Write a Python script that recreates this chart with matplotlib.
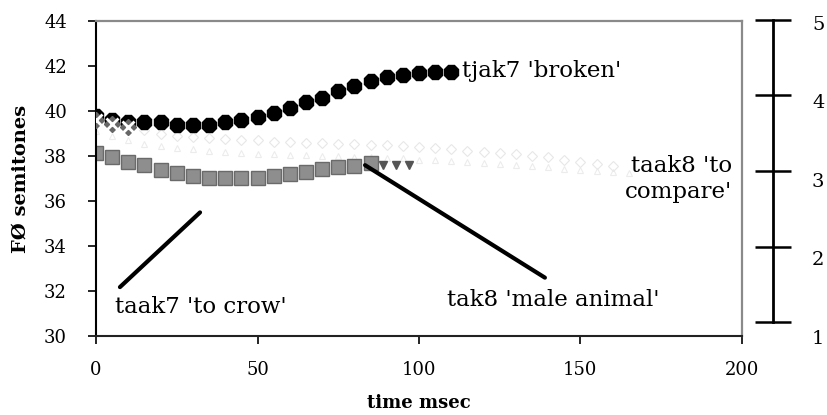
import matplotlib.pyplot as plt
import numpy as np

plt.rcParams['font.family'] = ['DejaVu Serif']

# tjak7 'broken' - black markers, every 5 ms
t_tjak7 = np.arange(0, 115, 5)
f0_tjak7 = [39.8, 39.6, 39.5, 39.5, 39.5, 39.4, 39.4, 39.4, 39.5, 39.6, 39.75, 39.9,
            40.15, 40.4, 40.6, 40.9, 41.1, 41.35, 41.5, 41.6, 41.7, 41.75, 41.75]

# tak8 'male animal' - grey squares
t_tak8 = np.arange(0, 90, 5)
f0_tak8 = [38.13, 37.95, 37.75, 37.6, 37.4, 37.25, 37.1, 37.05, 37.05, 37.05, 37.05,
           37.1, 37.22, 37.3, 37.45, 37.5, 37.56, 37.68]
t_tak8_tail = [89, 93, 97]
f0_tak8_tail = [37.62, 37.62, 37.62]

# taak7 'to crow' - mostly faded out in print
t_taak7 = np.arange(0, 165, 5)
f0_taak7 = [39.6, 39.45, 39.3, 39.15, 39.0, 38.9, 38.85, 38.8, 38.75, 38.7, 38.7, 38.65,
            38.65, 38.6, 38.6, 38.55, 38.55, 38.5, 38.5, 38.45, 38.4, 38.35, 38.3, 38.25,
            38.2, 38.15, 38.1, 38.0, 37.95, 37.85, 37.75, 37.65, 37.55]

# taak8 'to compare' - faded too
t_taak8 = np.arange(0, 170, 5)
f0_taak8 = [39.1, 38.9, 38.7, 38.55, 38.45, 38.35, 38.3, 38.25, 38.2, 38.15, 38.1, 38.1,
            38.05, 38.05, 38.0, 38.0, 37.95, 37.95, 37.9, 37.9, 37.85, 37.85, 37.8, 37.75,
            37.7, 37.65, 37.6, 37.55, 37.5, 37.45, 37.4, 37.35, 37.3, 37.25]

scale_ticks = [1, 2, 3, 4, 5]

fig = plt.figure(figsize=(8.28, 4.15), dpi=100)
ax = fig.add_axes([0.116, 0.190, 0.780, 0.759])

# faint series first
ax.plot(t_taak8, f0_taak8, ls='none', marker='^', ms=5, mfc='none', mec='#ececec', mew=0.8)
ax.plot(t_taak7[3:], f0_taak7[3:], ls='none', marker='D', ms=5, mfc='none', mec='#e8e8e8', mew=0.8)

ax.plot(t_tak8, f0_tak8, ls='none', marker='s', ms=10, mfc='#8e8e8e', mec='#6a6a6a', mew=1)
ax.plot(t_tak8_tail, f0_tak8_tail, ls='none', marker='v', ms=6, color='#555555')
ax.plot(t_tjak7, f0_tjak7, ls='none', marker='8', ms=10.5, color='black')

# crossed markers at the start sit on top
ax.plot(t_taak7[:3], f0_taak7[:3], ls='none', marker='D', ms=8, color='#666666', zorder=4)
ax.plot(t_taak7[:3], f0_taak7[:3], ls='none', marker='x', ms=8, color='white', mew=2, zorder=5)

# pointer lines
ax.plot([7.4, 32.2], [32.18, 35.5], color='black', lw=3, solid_capstyle='round')
ax.plot([83.3, 139], [37.6, 32.6], color='black', lw=3, solid_capstyle='round')

fs = 16.5
ax.text(113.3, 41.8, "tjak7 'broken'", fontsize=fs, va='center', ha='left')
ax.text(197, 37.0, "taak8 'to\ncompare'", fontsize=fs, va='center', ha='right', linespacing=1.25)
ax.text(5.9, 31.3, "taak7 'to crow'", fontsize=fs, va='center', ha='left')
ax.text(108.7, 31.6, "tak8 'male animal'", fontsize=fs, va='center', ha='left')

ax.set_xlim(0, 200)
ax.set_ylim(30, 44)
ax.set_xticks([0, 50, 100, 150, 200])
ax.set_yticks(np.arange(30, 45, 2))
ax.tick_params(axis='both', direction='out', length=6, width=1.2, labelsize=13)
ax.tick_params(axis='x', pad=12)
ax.tick_params(axis='y', pad=15)
ax.spines['left'].set_color('black')
ax.spines['left'].set_linewidth(1.5)
ax.spines['bottom'].set_color('#222222')
ax.spines['bottom'].set_linewidth(1.5)
ax.spines['top'].set_color('#8a8a8a')
ax.spines['top'].set_linewidth(1.6)
ax.spines['right'].set_color('#8a8a8a')
ax.spines['right'].set_linewidth(1.6)
ax.set_xlabel('time msec', fontsize=13, fontweight='bold', labelpad=11)
ax.set_ylabel('FØ semitones', fontsize=14, fontweight='bold', labelpad=10)

# separate rating scale on the right
ax2 = fig.add_axes([0.9336, 0.224, 0.0001, 0.728])
ax2.set_ylim(1, 5)
ax2.set_xticks([])
ax2.set_yticks(scale_ticks)
ax2.set_yticklabels([])
for s in ['top', 'bottom', 'right']:
    ax2.spines[s].set_visible(False)
ax2.spines['left'].set_linewidth(2)
ax2.tick_params(axis='y', direction='inout', length=26, width=1.8)
ax2.patch.set_visible(False)

ax3 = fig.add_axes([0.9336, 0.188, 0.0001, 0.757])
ax3.set_ylim(1, 5)
ax3.set_xticks([])
ax3.set_yticks(scale_ticks)
ax3.yaxis.tick_right()
ax3.tick_params(axis='y', length=0, pad=28, labelsize=14)
for s in ax3.spines.values():
    s.set_visible(False)
ax3.patch.set_visible(False)

fig.savefig('out.png', dpi=100)
